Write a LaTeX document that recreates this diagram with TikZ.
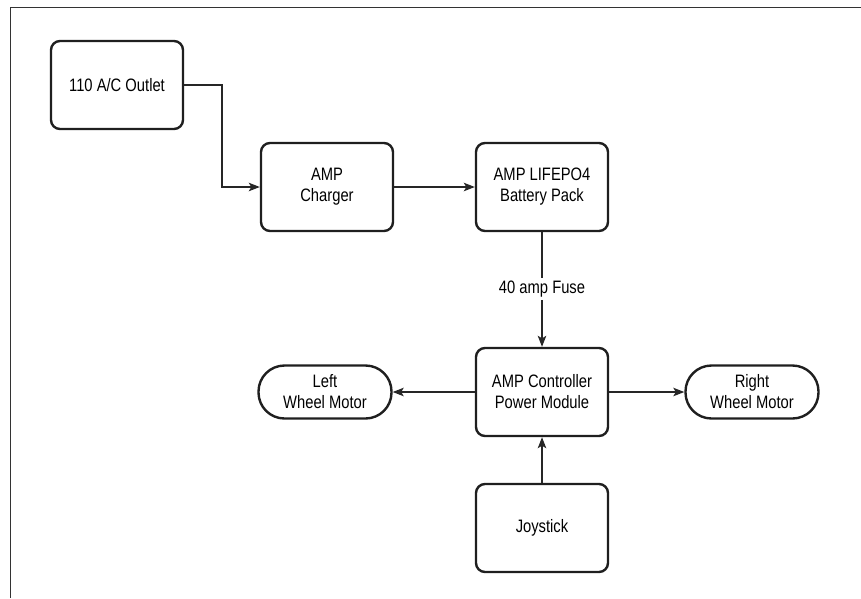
\documentclass[tikz,border=0pt]{standalone}
\usepackage{fontspec}
\setmainfont{Liberation Sans}[FakeStretch=0.82]
\usetikzlibrary{arrows.meta}

\begin{document}
\begin{tikzpicture}[
   x=1pt,
   y=-1pt,
   >={Stealth[length=11pt,width=8.5pt,inset=2.5pt]},
   line width=1.3pt,
   font=\fontsize{18}{21}\selectfont,
   block/.style={
      draw=black!88,
      line width=2.4pt,
      rounded corners=9pt,
      minimum width=132pt,
      minimum height=88pt,
      align=center
   },
   motor/.style={
      draw=black!88,
      line width=2.4pt,
      rounded corners=26pt,
      minimum width=133pt,
      minimum height=53pt,
      align=center
   },
   wire/.style={
      draw=black!85
   }
]

   \useasboundingbox (0,0) rectangle (861,598);

   % Frame
   \draw[black!80,line width=1.6pt] (10.5,598) -- (10.5,7.5) -- (861,7.5);

   % Outlet
   \node[block] (outlet) at (117,85) {110 A/C Outlet};

   % Charger
   \node[block] (charger) at (327,187) {AMP\\Charger};

   % Battery pack
   \node[block] (battery) at (542,187) {AMP LIFEPO4\\Battery Pack};

   % Fuse
   \node[inner sep=2pt] (fuse) at (542,289) {40 amp Fuse};

   % Controller
   \node[block] (controller) at (542,392) {AMP Controller\\Power Module};

   % Motors
   \node[motor] (leftmotor) at (325,392) {Left\\Wheel Motor};
   \node[motor] (rightmotor) at (752,392) {Right\\Wheel Motor};

   % Joystick
   \node[block] (joystick) at (542,528) {Joystick};

   % Outlet to charger
   \draw[wire,->]
      (outlet.east)
      -| (222,187)
      -- (charger.west);

   % Charger to battery
   \draw[wire,->] (charger.east) -- (battery.west);

   % Battery through fuse to controller
   \draw[wire] (battery.south) -- (fuse.north);
   \draw[wire,->] (fuse.south) -- (controller.north);

   % Controller to motors
   \draw[wire,->] (controller.west) -- (leftmotor.east);
   \draw[wire,->] (controller.east) -- (rightmotor.west);

   % Joystick to controller
   \draw[wire,->] (joystick.north) -- (controller.south);

\end{tikzpicture}
\end{document}
